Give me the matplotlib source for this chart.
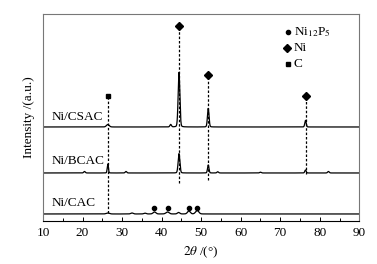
import numpy as np
import matplotlib.pyplot as plt

plt.rcParams['font.family'] = ['Liberation Serif', 'DejaVu Serif']
plt.rcParams['mathtext.fontset'] = 'stix'

# samples, vertical offsets (pixel-like units) and peaks
samples = ['Ni/CSAC', 'Ni/BCAC', 'Ni/CAC']
baselines = [94, 48, 7]
peak_pos = {
    'Ni/CSAC': [26.4, 42.3, 44.4, 51.8, 76.4],
    'Ni/BCAC': [20.5, 26.4, 31.0, 44.4, 51.8, 54.2, 65.0, 76.4, 82.2],
    'Ni/CAC': [26.4, 32.5, 35.8, 38.2, 41.5, 44.3, 46.9, 49.0],
}
peak_h = {
    'Ni/CSAC': [2.5, 2.5, 54.6, 18.6, 6.6],
    'Ni/BCAC': [1.5, 9.0, 1.5, 19.4, 8.0, 1.2, 0.8, 3.0, 1.5],
    'Ni/CAC': [1.0, 1.0, 0.8, 2.0, 2.0, 1.5, 3.0, 3.5],
}
peak_w = {
    'Ni/CSAC': [0.35, 0.2, 0.22, 0.2, 0.18],
    'Ni/BCAC': [0.2, 0.15, 0.2, 0.22, 0.18, 0.2, 0.2, 0.18, 0.2],
    'Ni/CAC': [0.4, 0.3, 0.3, 0.35, 0.4, 0.3, 0.35, 0.4],
}

ni_pos = [44.4, 51.8, 76.4]
ni_y = [195, 146, 125]
ni_line_end = [38, 41, 47]
c_pos = [26.4]
c_y = [125]
c_line_end = [8]
p_pos = [38.2, 41.5, 46.9, 49.0]
p_y = [13.3, 13.3, 13.3, 13.3]

x = np.linspace(10, 90, 4000)

fig, ax = plt.subplots(figsize=(3.77, 2.64), dpi=100)
fig.subplots_adjust(left=0.114, right=0.953, top=0.947, bottom=0.163)

for s, b in zip(samples, baselines):
    y = np.full_like(x, float(b))
    for p, h, w in zip(peak_pos[s], peak_h[s], peak_w[s]):
        # mostly gaussian peak with a small lorentzian foot
        g = np.exp(-0.5 * ((x - p) / w) ** 2)
        l = 1 / (1 + ((x - p) / w) ** 2)
        y += h * (0.85 * g + 0.15 * l)
    ax.plot(x, y, color='black', lw=0.9)

for p, yy, e in zip(ni_pos, ni_y, ni_line_end):
    ax.plot([p, p], [e, yy], ls=(0, (2, 1.5)), color='black', lw=0.9)
for p, yy, e in zip(c_pos, c_y, c_line_end):
    ax.plot([p, p], [e, yy], ls=(0, (2, 1.5)), color='black', lw=0.9)

ax.plot(ni_pos, ni_y, 'D', color='black', ms=4.5)
ax.plot(c_pos, c_y, 's', color='black', ms=3.5)
ax.plot(p_pos, p_y, 'o', color='black', ms=3)

ax.text(12.3, 104, 'Ni/CSAC', fontsize=9.5, va='center')
ax.text(12.3, 60, 'Ni/BCAC', fontsize=9.5, va='center')
ax.text(12.3, 18, 'Ni/CAC', fontsize=9.5, va='center')

# legend
ax.plot([72.0], [189], 'o', color='black', ms=3)
ax.plot([71.8], [173], 'D', color='black', ms=4)
ax.plot([72.0], [157], 's', color='black', ms=3)
ax.text(73.4, 189, 'Ni$_{12}$P$_5$', fontsize=9.5, va='center')
ax.text(73.4, 173, 'Ni', fontsize=9.5, va='center')
ax.text(73.4, 157, 'C', fontsize=9.5, va='center')

ax.set_xlim(10, 90)
ax.set_ylim(0, 207)
ax.set_xticks(range(10, 91, 10))
ax.set_xticks(range(15, 90, 10), minor=True)
ax.set_yticks([])
ax.tick_params(axis='x', direction='in', labelsize=9.5, length=3, width=0.7, pad=4)
ax.tick_params(axis='x', which='minor', direction='in', length=2, width=0.7)
for sp in ax.spines.values():
    sp.set_color('#777777')
    sp.set_linewidth(0.8)
ax.spines['bottom'].set_color('black')
ax.set_xlabel(r'$2\theta$ /(°)', fontsize=9.5, labelpad=4)
ax.set_ylabel('Intensity /(a.u.)', fontsize=9.5, labelpad=6)

plt.savefig('out.png', dpi=100)
